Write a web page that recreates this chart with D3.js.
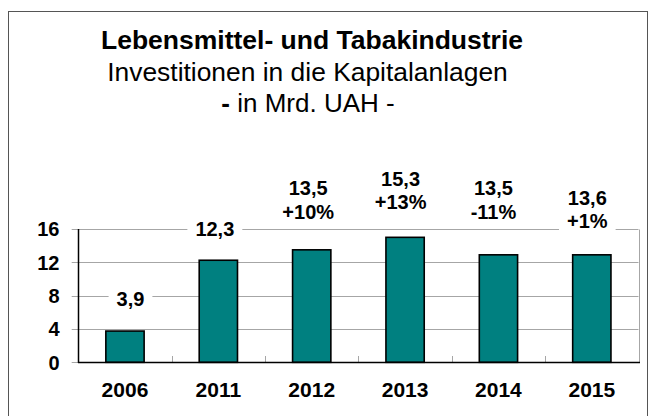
<!DOCTYPE html>
<html><head><meta charset="utf-8">
<script src="https://cdn.jsdelivr.net/npm/d3@7"></script>
<style>body{margin:0;background:#fff}svg{display:block}</style>
</head><body><svg id="c" width="657" height="416"></svg>
<script>
// ---- data ----
const categories = ["2006", "2011", "2012", "2013", "2014", "2015"];
const barValues = [3.75, 12.25, 13.5, 15.0, 12.9, 12.9];
const valueLabels = ["3,9", "12,3", "13,5", "15,3", "13,5", "13,6"];
const changeLabels = ["", "", "+10%", "+13%", "-11%", "+1%"];
const yTicks = [0, 4, 8, 12, 16];
const titleText = "Lebensmittel- und Tabakindustrie";
const subtitleText = "Investitionen in die Kapitalanlagen";
const unitText = ["-", " in Mrd. UAH -"];

// ---- layout ----
const W = 657, H = 416;
const plot = {left: 78.3, right: 638.5, top: 229, bottom: 362.3};
const labelAnchor = [7.64, 16.0, 20.93, 22.07, 20.9, 19.77]; // y of first label line (value units)
const labelDx = [5.5, -3.5, -3.5, -4.5, -5, -4.5];
const font = "'Liberation Sans', Arial, Helvetica, sans-serif";

const svg = d3.select("#c");
svg.append("rect").attr("width", W).attr("height", H).attr("fill", "#fff");
// outer frame
svg.append("rect").attr("x", 8.5).attr("y", 11.5).attr("width", 639).attr("height", 420)
  .attr("fill", "none").attr("stroke", "#555").attr("stroke-width", 1);

const x = d3.scaleBand().domain(categories).range([plot.left, plot.right]).paddingInner(0.59).paddingOuter(0.295);
const xb = d3.scaleBand().domain(categories).range([plot.left, plot.right]);
const y = d3.scaleLinear().domain([0, 16]).range([plot.bottom, plot.top]);

// gridlines
const grid = svg.append("g").attr("stroke", "#a6a6a6").attr("stroke-width", 1);
grid.selectAll("line").data(yTicks).join("line")
  .attr("x1", plot.left - 6.6).attr("x2", plot.right)
  .attr("y1", d => Math.round(y(d)) + 0.5).attr("y2", d => Math.round(y(d)) + 0.5);
grid.append("line").attr("x1", Math.round(plot.right) + 0.5).attr("x2", Math.round(plot.right) + 0.5)
  .attr("y1", Math.round(y(16)) + 0.5).attr("y2", Math.round(y(0)) + 0.5);
grid.selectAll("line.xt").data(categories.slice(1)).join("line").attr("class", "xt")
  .attr("x1", d => Math.round(xb(d)) + 0.5).attr("x2", d => Math.round(xb(d)) + 0.5)
  .attr("y1", Math.round(y(0))).attr("y2", Math.round(y(0)) - 6);

// bars
svg.append("g").selectAll("rect").data(categories).join("rect")
  .attr("x", d => x(d)).attr("width", x.bandwidth())
  .attr("y", (d, i) => y(barValues[i])).attr("height", (d, i) => y(0) - y(barValues[i]))
  .attr("fill", "#008080").attr("stroke", "#000").attr("stroke-width", 1.6);

// axes lines
svg.append("line").attr("x1", Math.round(plot.left) + 0.5).attr("x2", Math.round(plot.left) + 0.5)
  .attr("y1", Math.round(y(16))).attr("y2", Math.round(y(0)) + 1).attr("stroke", "#000").attr("stroke-width", 1.5);
svg.append("line").attr("x1", Math.round(plot.left)).attr("x2", Math.round(plot.right) + 1)
  .attr("y1", Math.round(y(0)) + 0.5).attr("y2", Math.round(y(0)) + 0.5).attr("stroke", "#000").attr("stroke-width", 1.5);

// y tick labels
svg.append("g").selectAll("text").data(yTicks).join("text")
  .attr("x", 59.5).attr("y", d => y(d) + 7.2).attr("text-anchor", "end")
  .attr("font-family", font).attr("font-weight", "bold").attr("font-size", 20).text(d => d);

// x labels
svg.append("g").selectAll("text").data(categories).join("text")
  .attr("x", d => xb(d) + xb.bandwidth() / 2).attr("y", 396.7).attr("text-anchor", "middle")
  .attr("font-family", font).attr("font-weight", "bold").attr("font-size", 21).text(d => d);

// value labels with white backgrounds
const lineGap = 23.5;
const lab = svg.append("g");
categories.forEach((c, i) => {
  const cx = xb(c) + xb.bandwidth() / 2 + labelDx[i];
  const cy = y(labelAnchor[i]);
  const lines = [valueLabels[i]].concat(changeLabels[i] ? [changeLabels[i]] : []);
  const g = lab.append("g");
  const texts = g.selectAll("text").data(lines).join("text")
    .attr("x", cx).attr("y", (d, k) => cy + k * lineGap + 7.2).attr("text-anchor", "middle")
    .attr("font-family", font).attr("font-weight", "bold").attr("font-size", 20).text(d => d);
  let maxW = 0;
  texts.each(function () { maxW = Math.max(maxW, this.getComputedTextLength()); });
  g.insert("rect", "text").attr("x", cx - maxW / 2 - 8).attr("width", maxW + 16)
    .attr("y", cy - 12).attr("height", (lines.length - 1) * lineGap + 24).attr("fill", "#fff");
});

// titles
svg.append("text").attr("x", 312).attr("y", 49).attr("text-anchor", "middle")
  .attr("font-family", font).attr("font-weight", "bold").attr("font-size", 26.5).text(titleText);
svg.append("text").attr("x", 307.5).attr("y", 81).attr("text-anchor", "middle")
  .attr("font-family", font).attr("font-size", 26.4).text(subtitleText);
const u = svg.append("text").attr("x", 308).attr("y", 112).attr("text-anchor", "middle")
  .attr("font-family", font).attr("font-size", 26);
u.append("tspan").attr("font-weight", "bold").text(unitText[0]);
u.append("tspan").text(unitText[1]);
</script>
</body></html>
